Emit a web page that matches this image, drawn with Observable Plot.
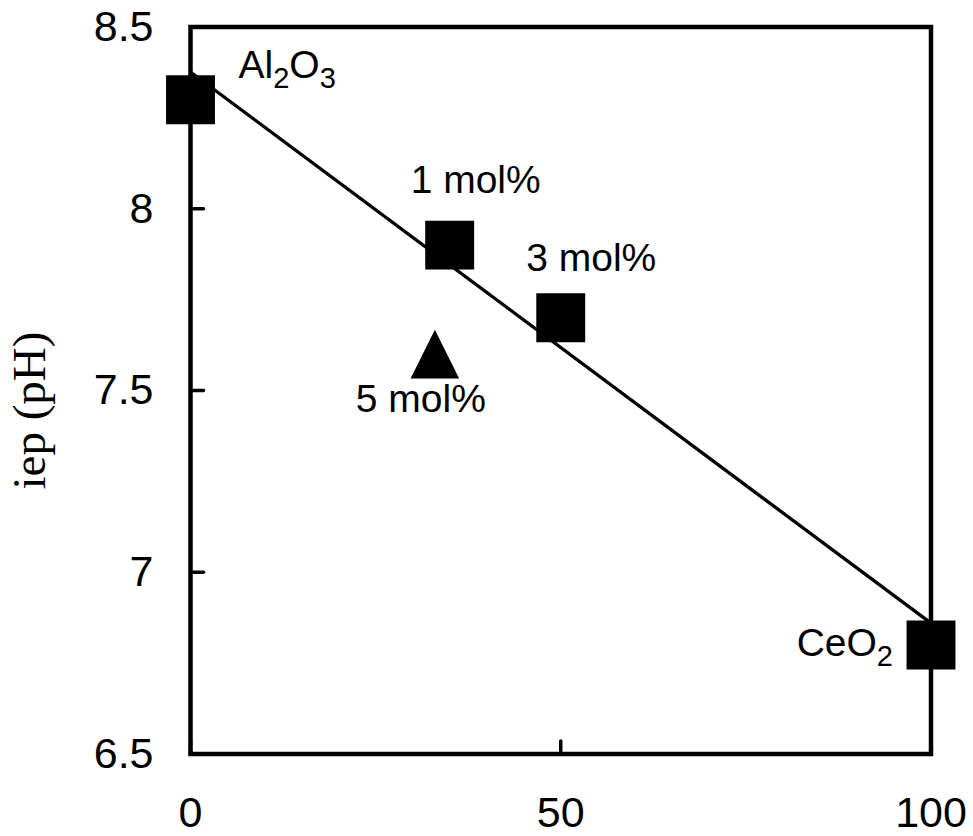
<!DOCTYPE html>
<html><head><meta charset="utf-8">
<script src="https://cdn.jsdelivr.net/npm/d3@7"></script>
<script src="https://cdn.jsdelivr.net/npm/@observablehq/plot@0.6"></script>
<style>
html,body{margin:0;padding:0;background:#fff;}
#chart svg{display:block;}
</style>
</head><body><div id="chart"></div>
<script>
// ---- data ----
const seriesX = [0, 35, 50, 100];
const seriesY = [8.3, 7.9, 7.7, 6.8];
const seriesLabels = ["Al_2O_3", "1 mol%", "3 mol%", "CeO_2"];
const extraX = [33];
const extraY = [7.6];
const extraLabels = ["5 mol%"];
const xTicks = [0, 50, 100];
const xTickLabels = ["0", "50", "100"];
const yTicks = [6.5, 7, 7.5, 8, 8.5];
const yTickLabels = ["6.5", "7", "7.5", "8", "8.5"];
const yTitle = "iep (pH)";

// ---- styles ----
const squares = seriesX.map((x, i) => ({x, y: seriesY[i], label: seriesLabels[i]}));
const triangles = extraX.map((x, i) => ({x, y: extraY[i], label: extraLabels[i]}));
const squareLabelStyle = [
  {dx: 48, dy: -21.5, textAnchor: "start"},
  {dx: 26, dy: -52.5, textAnchor: "middle"},
  {dx: 30.5, dy: -47, textAnchor: "middle"},
  {dx: -38, dy: 11.5, textAnchor: "end"}
];
const triangleLabelStyle = [{dx: -14, dy: 58, textAnchor: "middle"}];
const triangleBox = {draw(ctx, size) { const a = Math.sqrt(size) / 2; ctx.moveTo(0, -a); ctx.lineTo(a, a); ctx.lineTo(-a, a); ctx.closePath(); }};
const tickShape = {draw(ctx, l) { ctx.moveTo(0, 0); ctx.lineTo(0, -l); }};
const labelFont = 39;

const labelMarks = [
  ...squares.map((d, i) => Plot.text([d], {x: "x", y: "y", text: "label", lineAnchor: "bottom", fontSize: labelFont, fill: "black", ...squareLabelStyle[i]})),
  ...triangles.map((d, i) => Plot.text([d], {x: "x", y: "y", text: "label", lineAnchor: "bottom", fontSize: labelFont, fill: "black", ...triangleLabelStyle[i]}))
];

const chart = Plot.plot({
  width: 973, height: 836,
  marginLeft: 190, marginRight: 42.5, marginTop: 26.5, marginBottom: 82.5,
  x: {domain: [0, 100]},
  y: {domain: [6.5, 8.5]},
  style: {fontFamily: "'Liberation Sans', Arial, Helvetica, sans-serif", background: "white", color: "black"},
  marks: [
    // inward tick marks
    Plot.vector(yTicks, {y: d => d, frameAnchor: "left", length: 13, rotate: 90, anchor: "start", shape: tickShape, stroke: "black", strokeWidth: 3.5}),
    Plot.vector(xTicks, {x: d => d, frameAnchor: "bottom", length: 13, rotate: 0, anchor: "start", shape: tickShape, stroke: "black", strokeWidth: 3.5}),
    // tick labels
    Plot.axisY(yTicks, {anchor: "left", tickSize: 0, tickPadding: 37, fontSize: 43, label: null, tickFormat: d => yTickLabels[yTicks.indexOf(d)]}),
    Plot.axisX(xTicks, {anchor: "bottom", tickSize: 0, tickPadding: 42.5, fontSize: 43, label: null, tickFormat: d => xTickLabels[xTicks.indexOf(d)]}),
    Plot.text([yTitle], {text: d => d, frameAnchor: "left", textAnchor: "middle", rotate: -90, dx: -146, dy: 20, lineAnchor: "bottom", fontSize: 47, fontFamily: "'Liberation Serif', 'Times New Roman', serif", fill: "black"}),
    Plot.linearRegressionY(squares, {x: "x", y: "y", ci: 0, stroke: "black", strokeWidth: 3.3}),
    Plot.frame({stroke: "black", strokeWidth: 4.5}),
    Plot.dot(squares, {x: "x", y: "y", symbol: "square", r: 27.6, fill: "black", stroke: "none"}),
    Plot.dot(triangles, {x: "x", y: "y", symbol: triangleBox, r: 27.4, fill: "black", stroke: "none"}),
    ...labelMarks
  ]
});

// subscripts for chemical formulas
chart.querySelectorAll("text").forEach(t => {
  const s = t.textContent;
  if (!s.includes("_")) return;
  const parts = s.split(/_(\d)/);
  t.textContent = "";
  parts.forEach((p, i) => {
    if (!p) return;
    const ts = document.createElementNS("http://www.w3.org/2000/svg", "tspan");
    ts.textContent = p;
    if (i % 2 === 1) { ts.setAttribute("font-size", 29); ts.setAttribute("dy", 10); }
    else if (i > 0) { ts.setAttribute("dy", -10); }
    t.appendChild(ts);
  });
});

document.getElementById("chart").appendChild(chart);
</script>
</body></html>
